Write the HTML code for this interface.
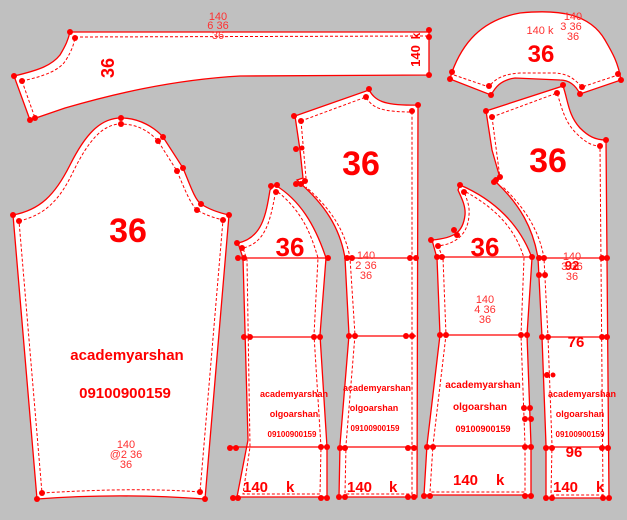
<!DOCTYPE html>
<html><head><meta charset="utf-8"><style>
html,body{margin:0;padding:0;background:#c0c0c0;}
svg{display:block;font-family:"Liberation Sans",Arial,sans-serif;}
.p{fill:#fff;stroke:#ff0000;stroke-width:1.3;}
.d{fill:none;stroke:#ff0000;stroke-width:1;stroke-dasharray:3,2;}
.l{stroke:#ff0000;stroke-width:1.3;}
.b{fill:#ff0000;font-weight:bold;}
.s{fill:#ff3030;font-size:11px;text-anchor:middle;}
circle{fill:#ff0000;}
</style></head><body>
<svg width="627" height="520" viewBox="0 0 627 520" xmlns="http://www.w3.org/2000/svg">
<!-- collar strip -->
<path class="p" d="M70,32 L429,32 L429,75 L240,76 C170,80 110,95 65,108 L30,120 L14,76 C40,70 52,65 60,55 C66,45 68,40 70,32 Z"/>
<path class="d" d="M75,37 L429,36 M22,81 C45,76 60,70 66,60 C72,50 74,44 75,37 M22,81 L35,118"/>
<g><circle cx="70" cy="32" r="3"/><circle cx="75" cy="38" r="3"/><circle cx="14" cy="76" r="3"/><circle cx="22" cy="81" r="3"/><circle cx="30" cy="120" r="3"/><circle cx="35" cy="118" r="3"/><circle cx="429" cy="30" r="3"/><circle cx="429" cy="37" r="3"/><circle cx="429" cy="75" r="3"/></g>
<text class="b" font-size="18" transform="translate(114,68) rotate(-90)" text-anchor="middle">36</text>
<text class="b" font-size="13" transform="translate(420,56) rotate(-90)" text-anchor="middle">140</text>
<text class="b" font-size="12" transform="translate(420,36) rotate(-90)" text-anchor="middle">k</text>
<text class="s" x="218" y="20">140</text><text class="s" x="218" y="29">6 36</text><text class="s" x="218" y="39">36</text>

<!-- yoke -->
<path class="p" d="M450,79 L452,72 C462,45 480,20 520,13 C560,9 590,14 605,40 C612,52 618,62 621,80 L580,94 C575,84 568,80 560,80 L515,78 C500,80 495,88 491,95 Z"/>
<path class="d" d="M454,75 L489,87 C495,78 505,74 520,73 L555,73 C570,74 575,80 582,87 L618,75"/>
<g><circle cx="450" cy="79" r="3"/><circle cx="452" cy="72" r="3"/><circle cx="491" cy="95" r="3"/><circle cx="489" cy="86" r="3"/><circle cx="580" cy="94" r="3"/><circle cx="582" cy="87" r="3"/><circle cx="621" cy="80" r="3"/><circle cx="618" cy="74" r="3"/></g>
<text class="b" font-size="24" x="541" y="62" text-anchor="middle">36</text>
<text x="540" y="34" text-anchor="middle" font-size="11" fill="#ff3030">140  k</text>
<text class="s" x="573" y="20">140</text><text class="s" x="571" y="30">3 36</text><text class="s" x="573" y="40">36</text>

<!-- sleeve -->
<path class="p" d="M13,215 C40,210 55,195 70,165 C85,135 100,118 121,118 C140,118 155,128 163,137 L183,168 C190,185 195,200 201,204 C210,210 220,213 229,215 L205,499 C150,495 90,495 37,499 Z"/>
<path class="d" d="M19,221 C45,215 60,200 74,170 C88,142 102,124 121,124 C138,124 150,132 158,141 L177,171 C185,190 190,203 197,210 C205,215 215,218 223,220 L200,492 C150,488 90,490 42,493 L19,221"/>
<g><circle cx="13" cy="215" r="3"/><circle cx="19" cy="221" r="3"/><circle cx="121" cy="118" r="3"/><circle cx="121" cy="124" r="3"/><circle cx="163" cy="137" r="3"/><circle cx="158" cy="141" r="3"/><circle cx="183" cy="168" r="3"/><circle cx="177" cy="171" r="3"/><circle cx="201" cy="204" r="3"/><circle cx="197" cy="210" r="3"/><circle cx="229" cy="215" r="3"/><circle cx="223" cy="220" r="3"/><circle cx="37" cy="499" r="3"/><circle cx="42" cy="493" r="3"/><circle cx="205" cy="499" r="3"/><circle cx="200" cy="492" r="3"/></g>
<text class="b" font-size="34" x="128" y="242" text-anchor="middle">36</text>
<text class="b" font-size="15" x="127" y="360" text-anchor="middle">academyarshan</text>
<text class="b" font-size="15" x="125" y="398" text-anchor="middle">09100900159</text>
<text class="s" x="126" y="448">140</text><text class="s" x="126" y="458">@2 36</text><text class="s" x="126" y="468">36</text>

<!-- piece 1 -->
<path class="p" d="M275,185 C300,200 315,225 326,258 L320,335 L327,447 L327,497 L237,497 L248,440 L243,258 L238,243 C262,238 266,215 270,190 Z"/>
<path class="d" d="M278,192 C300,210 310,230 318,258 L314,335 L321,447 L320,494 L243,494 L250,447 L247,260 L243,248 C265,243 270,222 275,195"/>
<line class="l" x1="243" y1="258" x2="326" y2="258"/><line class="l" x1="244" y1="337" x2="321" y2="337"/><line class="l" x1="230" y1="447" x2="327" y2="447"/>
<g><circle cx="271" cy="186" r="3"/><circle cx="277" cy="185" r="3"/><circle cx="276" cy="192" r="3"/><circle cx="237" cy="243" r="3"/><circle cx="242" cy="248" r="3"/><circle cx="238" cy="258" r="3"/><circle cx="244" cy="258" r="3"/><circle cx="328" cy="258" r="3"/><circle cx="244" cy="337" r="3"/><circle cx="250" cy="337" r="3"/><circle cx="314" cy="337" r="3"/><circle cx="320" cy="337" r="3"/><circle cx="230" cy="448" r="3"/><circle cx="236" cy="448" r="3"/><circle cx="321" cy="447" r="3"/><circle cx="327" cy="447" r="3"/><circle cx="233" cy="498" r="3"/><circle cx="238" cy="498" r="3"/><circle cx="321" cy="498" r="3"/><circle cx="327" cy="498" r="3"/></g>
<text class="b" font-size="26" x="290" y="256" text-anchor="middle">36</text>
<text class="b" font-size="9" x="294" y="397" text-anchor="middle">academyarshan</text>
<text class="b" font-size="9" x="294" y="417" text-anchor="middle">olgoarshan</text>
<text class="b" font-size="8" x="292" y="437" text-anchor="middle">09100900159</text>
<text class="b" font-size="15" x="243" y="492">140</text><text class="b" font-size="15" x="286" y="492">k</text>

<!-- piece 2 -->
<path class="p" d="M295,116 L369,90 C375,100 382,106 418,105 L417,497 L339,497 L340,445 L349,335 L345,258 C340,228 325,205 300,183 L297,180 L303,178 L300,150 Z"/>
<path class="d" d="M301,121 L366,97 C372,108 382,112 412,112 L412,494 L345,494 L346,445 L355,335 L350,258 C345,230 330,208 306,187 M301,121 L306,178"/>
<line class="l" x1="349" y1="258" x2="416" y2="258"/><line class="l" x1="349" y1="336" x2="416" y2="336"/><line class="l" x1="340" y1="447" x2="416" y2="447"/>
<g><circle cx="294" cy="116" r="3"/><circle cx="301" cy="121" r="3"/><circle cx="369" cy="89" r="3"/><circle cx="366" cy="97" r="3"/><circle cx="418" cy="105" r="3"/><circle cx="412" cy="111" r="3"/><circle cx="296" cy="149" r="3"/><circle cx="302" cy="148" r="2.5"/><circle cx="296" cy="184" r="3"/><circle cx="301" cy="184" r="3"/><circle cx="305" cy="181" r="3"/><circle cx="347" cy="258" r="3"/><circle cx="352" cy="258" r="3"/><circle cx="410" cy="258" r="3"/><circle cx="416" cy="258" r="3"/><circle cx="349" cy="336" r="3"/><circle cx="355" cy="336" r="3"/><circle cx="406" cy="336" r="3"/><circle cx="412" cy="336" r="3"/><circle cx="340" cy="448" r="3"/><circle cx="345" cy="448" r="3"/><circle cx="408" cy="448" r="3"/><circle cx="414" cy="448" r="3"/><circle cx="339" cy="497" r="3"/><circle cx="345" cy="497" r="3"/><circle cx="408" cy="497" r="3"/><circle cx="414" cy="497" r="3"/></g>
<text class="b" font-size="34" x="361" y="175" text-anchor="middle">36</text>
<text class="s" x="366" y="259">140</text><text class="s" x="366" y="269">2 36</text><text class="s" x="366" y="279">36</text>
<text class="b" font-size="9" x="377" y="391" text-anchor="middle">academyarshan</text>
<text class="b" font-size="9" x="374" y="411" text-anchor="middle">olgoarshan</text>
<text class="b" font-size="8" x="375" y="431" text-anchor="middle">09100900159</text>
<text class="b" font-size="15" x="347" y="492">140</text><text class="b" font-size="15" x="389" y="492">k</text>

<!-- piece 3 -->
<path class="p" d="M460,185 C495,200 520,225 532,258 L527,335 L531,445 L531,495 L424,495 L427,445 L440,335 L437,258 L432,240 C455,238 463,232 465,215 C466,205 460,195 458,190 Z"/>
<path class="d" d="M466,192 C495,208 515,228 524,258 L521,335 L525,445 L525,492 L430,492 L433,445 L446,335 L443,258 L438,246 C455,244 468,235 469,215 C470,205 466,198 465,194"/>
<line class="l" x1="437" y1="257" x2="532" y2="257"/><line class="l" x1="440" y1="335" x2="527" y2="335"/><line class="l" x1="427" y1="446" x2="531" y2="446"/>
<g><circle cx="460" cy="185" r="3"/><circle cx="464" cy="192" r="3"/><circle cx="431" cy="240" r="3"/><circle cx="438" cy="246" r="3"/><circle cx="454" cy="230" r="3"/><circle cx="457" cy="235" r="3"/><circle cx="437" cy="257" r="3"/><circle cx="442" cy="257" r="3"/><circle cx="532" cy="257" r="3"/><circle cx="440" cy="335" r="3"/><circle cx="446" cy="335" r="3"/><circle cx="521" cy="335" r="3"/><circle cx="527" cy="335" r="3"/><circle cx="524" cy="408" r="3"/><circle cx="530" cy="408" r="3"/><circle cx="525" cy="419" r="3"/><circle cx="531" cy="419" r="3"/><circle cx="427" cy="447" r="3"/><circle cx="433" cy="447" r="3"/><circle cx="525" cy="447" r="3"/><circle cx="531" cy="447" r="3"/><circle cx="424" cy="496" r="3"/><circle cx="430" cy="496" r="3"/><circle cx="525" cy="496" r="3"/><circle cx="531" cy="496" r="3"/></g>
<text class="b" font-size="26" x="485" y="256" text-anchor="middle">36</text>
<text class="s" x="485" y="303">140</text><text class="s" x="485" y="313">4 36</text><text class="s" x="485" y="323">36</text>
<text class="b" font-size="10" x="483" y="388" text-anchor="middle">academyarshan</text>
<text class="b" font-size="10" x="480" y="410" text-anchor="middle">olgoarshan</text>
<text class="b" font-size="9" x="483" y="432" text-anchor="middle">09100900159</text>
<text class="b" font-size="15" x="453" y="485">140</text><text class="b" font-size="15" x="496" y="485">k</text>

<!-- piece 4 -->
<path class="p" d="M486,111 L563,86 C568,100 568,115 580,128 C588,136 595,140 606,140 L609,498 L546,498 L546,445 L542,337 L538,258 C533,228 520,205 497,183 L494,181 L500,178 L492,150 Z"/>
<path class="d" d="M492,117 L557,93 C562,108 564,120 575,132 C583,140 590,146 600,146 L603,495 L551,495 L552,445 L548,337 L544,258 C539,230 525,208 502,186 M492,117 L500,178"/>
<line class="l" x1="538" y1="258" x2="607" y2="258"/><line class="l" x1="542" y1="337" x2="607" y2="337"/><line class="l" x1="546" y1="447" x2="608" y2="447"/>
<g><circle cx="486" cy="111" r="3"/><circle cx="492" cy="117" r="3"/><circle cx="563" cy="85" r="3"/><circle cx="557" cy="93" r="3"/><circle cx="606" cy="140" r="3"/><circle cx="600" cy="146" r="3"/><circle cx="496" cy="180" r="3"/><circle cx="500" cy="177" r="3"/><circle cx="494" cy="182" r="3"/><circle cx="539" cy="258" r="3"/><circle cx="544" cy="258" r="3"/><circle cx="602" cy="258" r="3"/><circle cx="607" cy="258" r="3"/><circle cx="539" cy="275" r="3"/><circle cx="545" cy="275" r="3"/><circle cx="542" cy="337" r="3"/><circle cx="548" cy="337" r="3"/><circle cx="602" cy="337" r="3"/><circle cx="607" cy="337" r="3"/><circle cx="547" cy="375" r="3"/><circle cx="553" cy="375" r="2.5"/><circle cx="546" cy="448" r="3"/><circle cx="552" cy="448" r="3"/><circle cx="602" cy="448" r="3"/><circle cx="608" cy="448" r="3"/><circle cx="546" cy="498" r="3"/><circle cx="552" cy="498" r="3"/><circle cx="603" cy="498" r="3"/><circle cx="609" cy="498" r="3"/></g>
<text class="b" font-size="34" x="548" y="172" text-anchor="middle">36</text>
<text class="s" x="572" y="260">140</text><text class="s" x="572" y="270">3 36</text><text class="s" x="572" y="280">36</text>
<text class="b" font-size="13" x="572" y="270" text-anchor="middle" fill="#ff0000">92</text>
<text class="b" font-size="15" x="576" y="347" text-anchor="middle">76</text>
<text class="b" font-size="15" x="574" y="457" text-anchor="middle">96</text>
<text class="b" font-size="9" x="582" y="397" text-anchor="middle">academyarshan</text>
<text class="b" font-size="9" x="580" y="417" text-anchor="middle">olgoarshan</text>
<text class="b" font-size="8" x="580" y="437" text-anchor="middle">09100900159</text>
<text class="b" font-size="15" x="553" y="492">140</text><text class="b" font-size="15" x="596" y="492">k</text>
</svg>
</body></html>
